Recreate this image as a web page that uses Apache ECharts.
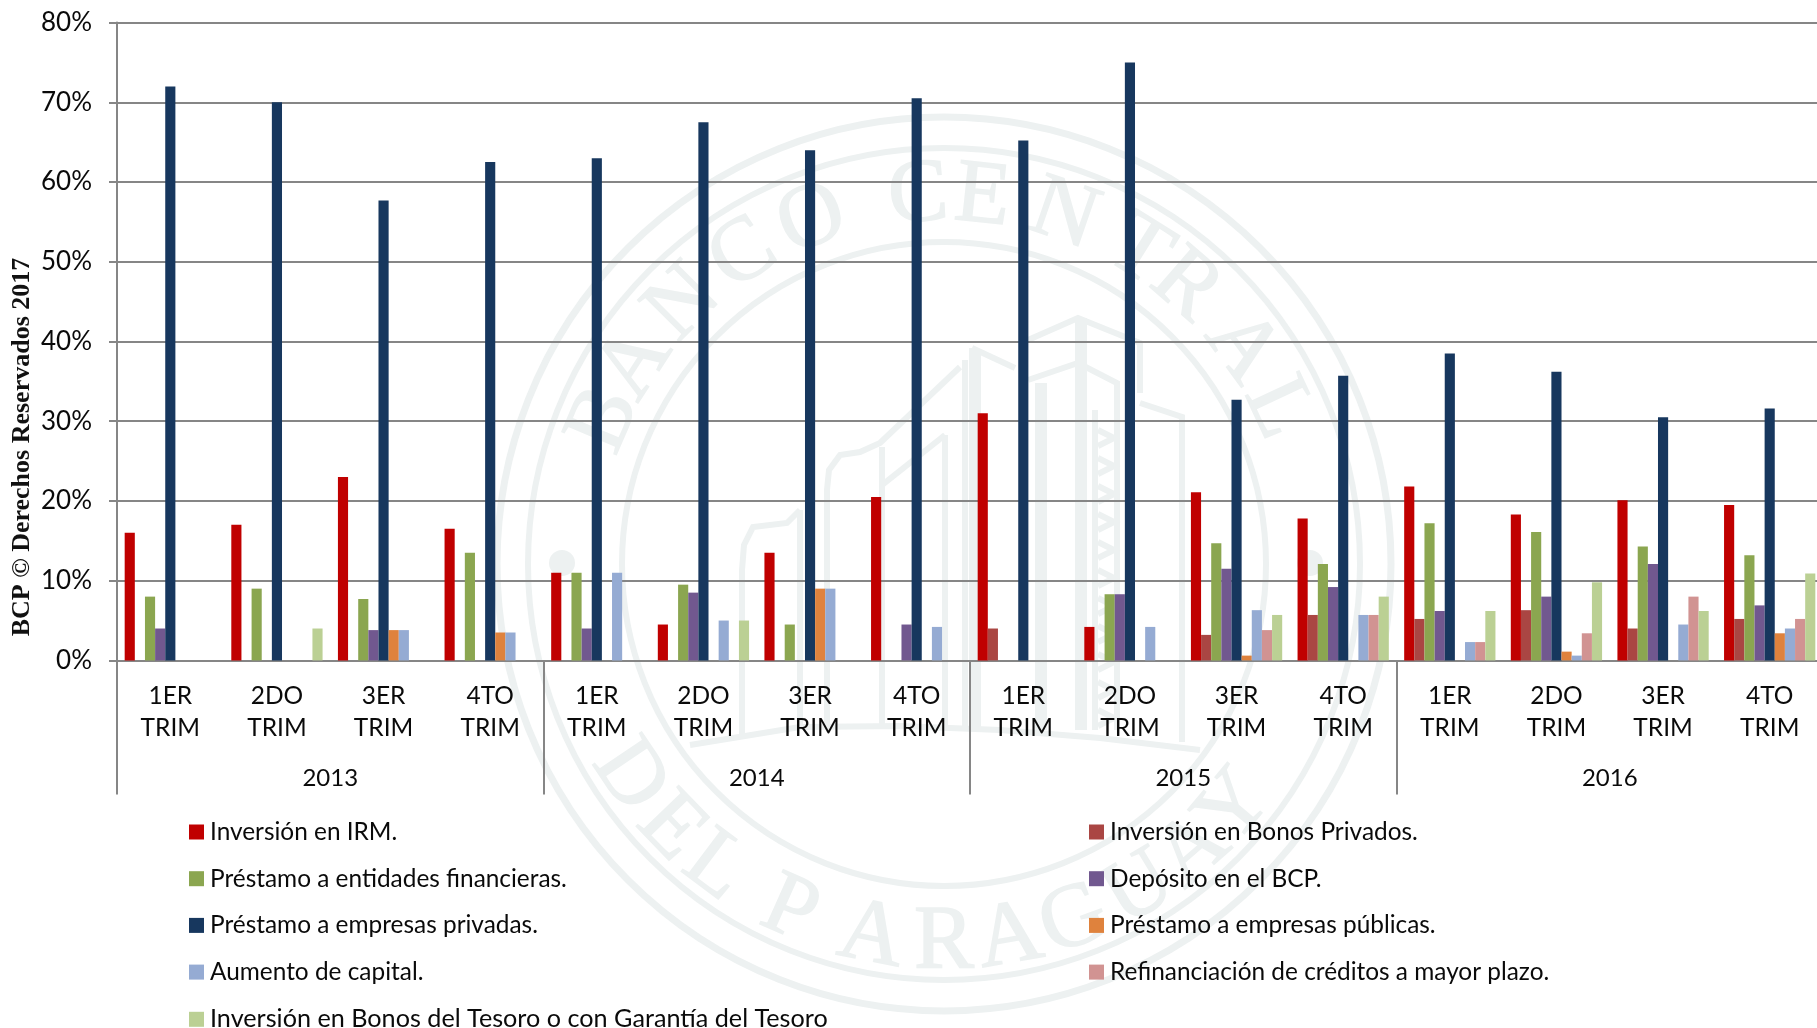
<!DOCTYPE html>
<html>
<head>
<meta charset="utf-8">
<style>html,body{margin:0;padding:0;background:#fff;overflow:hidden;width:1817px;height:1028px}#c{width:1823px;height:1028px}</style>
<script src="https://cdn.jsdelivr.net/npm/echarts@6/dist/echarts.min.js"></script>
</head>
<body>
<div id="c"></div>
<script>
const quarters = ['1ER\nTRIM','2DO\nTRIM','3ER\nTRIM','4TO\nTRIM','1ER\nTRIM','2DO\nTRIM','3ER\nTRIM','4TO\nTRIM','1ER\nTRIM','2DO\nTRIM','3ER\nTRIM','4TO\nTRIM','1ER\nTRIM','2DO\nTRIM','3ER\nTRIM','4TO\nTRIM'];
const years = ['2013','2014','2015','2016'];
const yTicks = {min:0,max:80,interval:10};

const irm      = [16,17,23,16.5, 11,4.5,13.5,20.5, 31,4.2,21.1,17.8, 21.8,18.3,20.1,19.5];
const bonosPriv= [0,0,0,0, 0,0,0,0, 4,0,3.2,5.7, 5.2,6.3,4,5.2];
const entFin   = [8,9,7.7,13.5, 11,9.5,4.5,0, 0,8.3,14.7,12.1, 17.2,16.1,14.3,13.2];
const deposito = [4,0,3.8,0, 4,8.5,0,4.5, 0,8.3,11.5,9.2, 6.2,8,12.1,6.9];
const empPriv  = [72,70,57.7,62.5, 63,67.5,64,70.5, 65.2,75,32.7,35.7, 38.5,36.2,30.5,31.6];
const empPub   = [0,0,3.8,3.5, 0,0,9,0, 0,0,0.6,0, 0,1.1,0,3.4];
const capital  = [0,0,3.8,3.5, 11,5,9,4.2, 0,4.2,6.3,5.7, 2.3,0.6,4.5,4];
const refin    = [0,0,0,0, 0,0,0,0, 0,0,3.8,5.7, 2.3,3.4,8,5.2];
const tesoro   = [0,4,0,0, 0,5,0,0, 0,0,5.7,8, 6.2,9.8,6.2,10.9];

const seriesNames = ['Inversión en IRM.','Inversión en Bonos Privados.','Préstamo a entidades financieras.','Depósito en el BCP.','Préstamo a empresas privadas.','Préstamo a empresas públicas.','Aumento de capital.','Refinanciación de créditos a mayor plazo.','Inversión en Bonos del Tesoro o con Garantía del Tesoro'];
const seriesValues = [irm,bonosPriv,entFin,deposito,empPriv,empPub,capital,refin,tesoro];
const seriesColors = ['#C00000','#AA4643','#8BA650','#71588F','#17375E','#DF823D','#95ABD3','#D19392','#BBD094'];

const FONT = 'Lato';
const TXT = '#0a0a0a';
const AX = '#868686';
const WM = '#edf1f1';

// Watermark seal (decoration behind the chart)
const cx = 944, cy = 564;
const wm = [];
[[447,7],[416,6],[322,6]].forEach(r => wm.push({type:'circle',z:-10,silent:true,shape:{cx,cy,r:r[0]},style:{fill:'none',stroke:WM,lineWidth:r[1]}}));
[[562,563],[1310,563]].forEach(p => wm.push({type:'circle',z:-10,silent:true,shape:{cx:p[0],cy:p[1],r:13},style:{fill:WM}}));
const topLetters = [['B',-67],['A',-57],['N',-45],['C',-33],['O',-21],['C',-4],['E',6],['N',19],['T',32],['R',41],['A',54],['L',65]];
const botLetters = [['D',-56],['E',-46],['L',-37],['P',-24],['A',-11],['R',0],['A',10],['G',20],['U',31],['A',41],['Y',50]];
topLetters.forEach(l => {
  const a = l[1]*Math.PI/180, R = 368;
  wm.push({type:'text',z:-10,silent:true,x:cx+R*Math.sin(a),y:cy-R*Math.cos(a),rotation:-a,
    style:{text:l[0],fill:WM,stroke:WM,lineWidth:1.5,font:'90px "Liberation Serif"',textAlign:'center',textVerticalAlign:'middle'}});
});
botLetters.forEach(l => {
  const a = l[1]*Math.PI/180, R = 380;
  wm.push({type:'text',z:-10,silent:true,x:cx+R*Math.sin(a),y:cy+R*Math.cos(a),rotation:a,
    style:{text:l[0],fill:WM,stroke:WM,lineWidth:1.5,font:'90px "Liberation Serif"',textAlign:'center',textVerticalAlign:'middle'}});
});
const wmLines = [
  [[1028,340],[1078,318],[1140,343],[1140,393]],
  [[1028,380],[1078,363],[1117,383],[1117,730]],
  [[1078,318],[1078,730]],[[1084,318],[1084,730]],
  [[1038,383],[1038,730]],[[1044,383],[1044,730]],
  [[1140,403],[1182,417],[1182,742]],
  [[1095,410],[1095,730]],
  [[972,348],[1015,368]],[[972,348],[972,727]],[[978,352],[978,727]],
  [[965,360],[965,727]],
  [[960,367],[880,443],[860,452],[840,455],[829,470],[827,490],[827,727]],
  [[945,435],[882,485],[882,447]],[[945,435],[945,727]],
  [[882,485],[882,727]],
  [[800,510],[787,523],[753,527],[744,545],[742,570],[742,735]],
  [[800,510],[800,727]],
  [[690,745],[800,727],[900,726],[1000,730],[1100,738],[1200,750]]
];
for (let y = 430; y < 720; y += 28) wmLines.push([[1098,y],[1114,y+8],[1098,y+16]]);
wmLines.forEach(pts => wm.push({type:'polyline',z:-10,silent:true,shape:{points:pts},style:{fill:'none',stroke:WM,lineWidth:6}}));

const credit = {type:'text',z:5,silent:true,x:22,y:447,rotation:Math.PI/2,
  style:{text:'BCP © Derechos Reservados 2017',fill:'#111',font:'bold 26px "Liberation Serif"',textAlign:'center',textVerticalAlign:'middle'}};

const legendBase = {
  orient:'vertical', top:820, height:300, padding:0, itemWidth:15, itemHeight:15, itemGap:22.7,
  selectedMode:false, icon:'rect',
  textStyle:{fontFamily:FONT,fontSize:24.4,color:TXT,padding:[0,0,0,1]}
};

const chart = echarts.init(document.getElementById('c'));
chart.setOption({
  animation:false,
  backgroundColor:'#fff',
  graphic:{elements:wm.concat([credit])},
  grid:{left:117,top:22.6,width:1706,height:637.8,containLabel:false},
  legend:[
    Object.assign({},legendBase,{left:189,data:[seriesNames[0],seriesNames[2],seriesNames[4],seriesNames[6],
      {name:seriesNames[8],textStyle:{fontSize:25.2}}]}),
    Object.assign({},legendBase,{left:1089,data:[seriesNames[1],seriesNames[3],seriesNames[5],seriesNames[7]]})
  ],
  xAxis:[
    {type:'category',data:quarters,position:'bottom',
      axisLine:{lineStyle:{color:AX,width:2}},axisTick:{show:false},
      axisLabel:{interval:0,margin:20,fontFamily:FONT,fontSize:24.5,lineHeight:32,color:TXT,hideOverlap:false}},
    {type:'category',data:years,position:'bottom',
      axisLine:{show:false},
      axisTick:{show:true,length:134,lineStyle:{color:AX,width:2}},
      axisLabel:{interval:0,margin:106,fontFamily:FONT,fontSize:24,lineHeight:24,color:TXT}}
  ],
  yAxis:{type:'value',min:yTicks.min,max:yTicks.max,interval:yTicks.interval,
    axisLine:{show:true,lineStyle:{color:AX,width:2}},
    axisTick:{show:true,length:8,lineStyle:{color:AX,width:2}},
    splitLine:{show:true,lineStyle:{color:AX,width:2}},
    axisLabel:{margin:25,formatter:'{value}%',fontFamily:FONT,fontSize:26,color:TXT}},
  series:seriesNames.map((name,i)=>({
    name,type:'bar',data:seriesValues[i],barGap:0,barCategoryGap:'14.4%',
    itemStyle:{color:seriesColors[i]},z:3,silent:true
  }))
});
</script>
</body>
</html>
